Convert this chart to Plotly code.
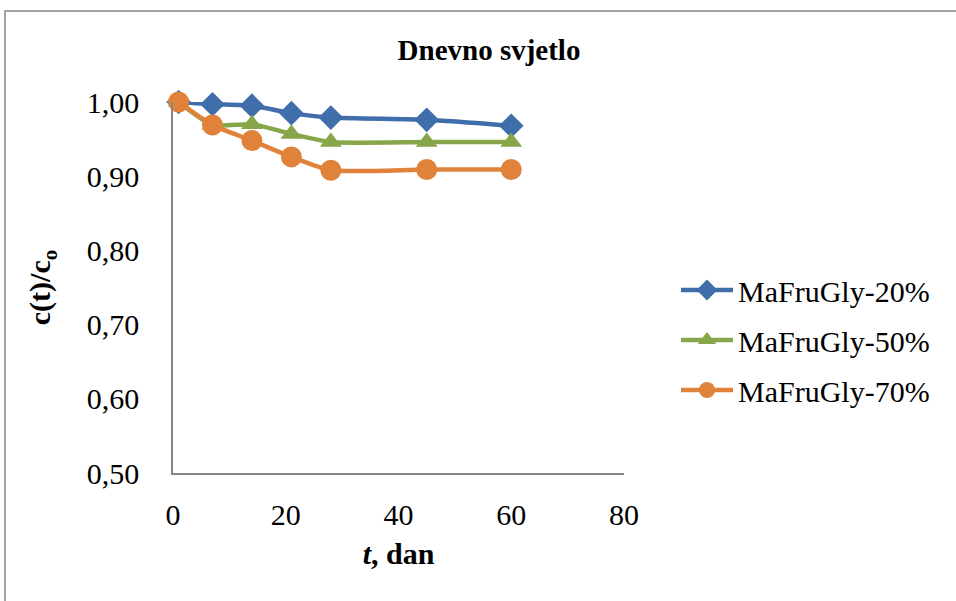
import plotly.graph_objects as go

t_days = [1, 7, 14, 21, 28, 45, 60]
series_names = ["MaFruGly-20%", "MaFruGly-50%", "MaFruGly-70%"]
mafrugly_20 = [1.000, 0.997, 0.995, 0.985, 0.979, 0.976, 0.968]
mafrugly_50 = [1.000, 0.969, 0.970, 0.957, 0.946, 0.946, 0.946]
mafrugly_70 = [1.000, 0.969, 0.948, 0.926, 0.908, 0.909, 0.909]
y_tickvals = [0.5, 0.6, 0.7, 0.8, 0.9, 1.0]
y_ticktext = ["0,50", "0,60", "0,70", "0,80", "0,90", "1,00"]
x_tickvals = [0, 20, 40, 60, 80]

colors = ["#3F6EAA", "#87A64A", "#E0823A"]
symbols = ["diamond", "triangle-up", "circle"]
sizes = [19, 19, 21]
FONT = "Liberation Serif, Times New Roman, serif"

fig = go.Figure()
for i, (name, vals, c, s, sz) in enumerate(zip(series_names, [mafrugly_20, mafrugly_50, mafrugly_70], colors, symbols, sizes)):
    fig.add_trace(go.Scatter(
        x=t_days, y=vals, name=name, mode="lines+markers", legendgroup=f"g{i}",
        line=dict(color=c, width=4.5, shape="spline", smoothing=0.6),
        marker=dict(symbol=s, size=sz, color=c, line=dict(width=0)),
        cliponaxis=False,
    ))

fig.update_layout(
    width=956, height=601,
    paper_bgcolor="white", plot_bgcolor="white",
    margin=dict(l=173, r=332, t=102, b=128),
    font=dict(family=FONT, size=30, color="black"),
    title=dict(text="<b>Dnevno svjetlo</b>", x=489/956, xanchor="center",
               y=1 - 50/601, yanchor="middle",
               font=dict(family=FONT, size=29, color="black")),
    legend=dict(x=(676 - 173) / 451, xanchor="left", y=(473 - 340) / 371, yanchor="middle",
                font=dict(family=FONT, size=30, color="black"),
                itemwidth=52, tracegroupgap=8, bgcolor="rgba(0,0,0,0)"),
    showlegend=True,
)
fig.update_xaxes(range=[0, 80], tickvals=x_tickvals, showgrid=False, zeroline=False,
                 showline=True, linecolor="#868686", linewidth=1.5, ticks="",
                 tickfont=dict(family=FONT, size=30), ticklabelstandoff=14,
                 title=dict(text="<b><i>t</i>, dan</b>", standoff=13,
                            font=dict(family=FONT, size=30)))
fig.update_yaxes(range=[0.5, 1.0], tickvals=y_tickvals, ticktext=y_ticktext,
                 showgrid=False, zeroline=False,
                 showline=True, linecolor="#868686", linewidth=1.5, ticks="",
                 tickfont=dict(family=FONT, size=30), ticklabelstandoff=26,
                 title=dict(text="<b>c(t)/c<sub>o</sub></b>", standoff=27,
                            font=dict(family=FONT, size=30)))

fig.add_shape(type="rect", xref="paper", yref="paper",
              x0=(5 - 173) / 451, x1=(962 - 173) / 451,
              y0=(473 - 608) / 371, y1=(473 - 11) / 371,
              line=dict(color="#868686", width=1.5), fillcolor="rgba(0,0,0,0)", layer="below")

fig.write_html("out.html", config={"displayModeBar": False},
               post_script="document.body.style.margin='0';")
